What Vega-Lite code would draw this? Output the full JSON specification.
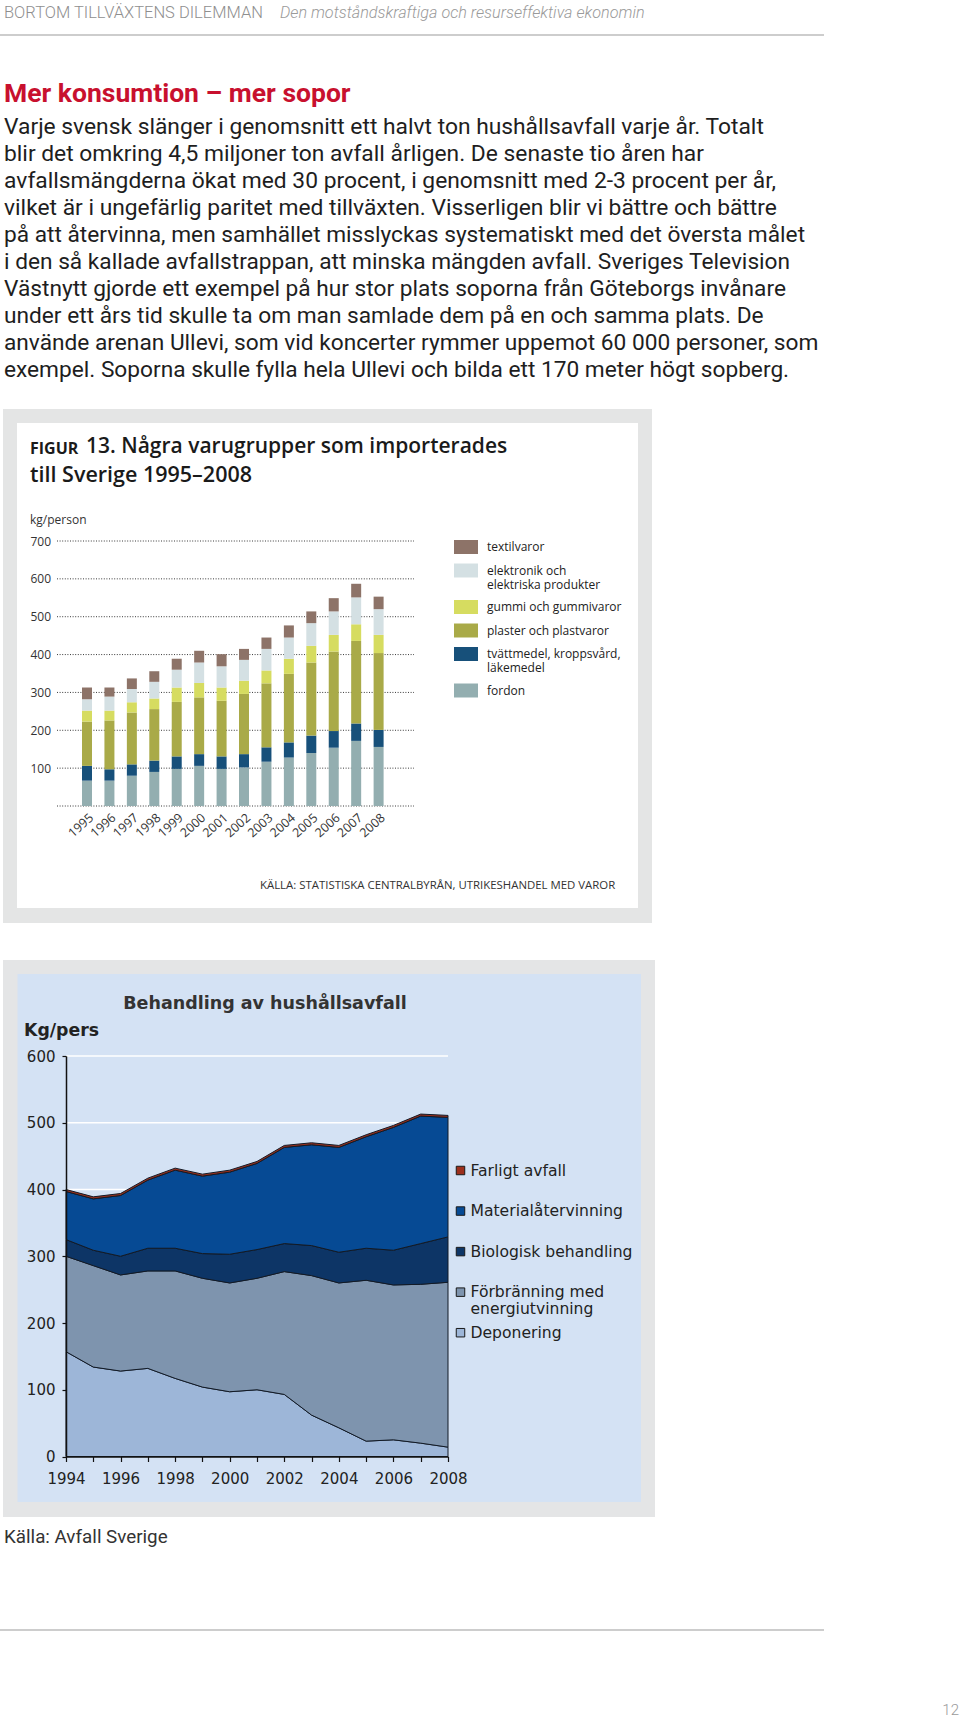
{
  "$schema": "https://vega.github.io/schema/vega-lite/v6.json",
  "width": 960,
  "height": 1719,
  "autosize": {"type": "none"},
  "padding": 0,
  "background": "#ffffff",
  "config": {"view": {"stroke": null}, "font": "Roboto", "style": {"guide-label": {"lineHeight": 14}}},
  "data": {"values": [{}]},
  "datasets": {
    "para": [
      {"line": 1, "t": "Varje svensk slänger i genomsnitt ett halvt ton hushållsavfall varje år. Totalt"},
      {"line": 2, "t": "blir det omkring 4,5 miljoner ton avfall årligen. De senaste tio åren har"},
      {"line": 3, "t": "avfallsmängderna ökat med 30 procent, i genomsnitt med 2-3 procent per år,"},
      {"line": 4, "t": "vilket är i ungefärlig paritet med tillväxten. Visserligen blir vi bättre och bättre"},
      {"line": 5, "t": "på att återvinna, men samhället misslyckas systematiskt med det översta målet"},
      {"line": 6, "t": "i den så kallade avfallstrappan, att minska mängden avfall. Sveriges Television"},
      {"line": 7, "t": "Västnytt gjorde ett exempel på hur stor plats soporna från Göteborgs invånare"},
      {"line": 8, "t": "under ett års tid skulle ta om man samlade dem på en och samma plats. De"},
      {"line": 9, "t": "använde arenan Ullevi, som vid koncerter rymmer uppemot 60 000 personer, som"},
      {"line": 10, "t": "exempel. Soporna skulle fylla hela Ullevi och bilda ett 170 meter högt sopberg."}
    ],
    "grid1": [{"v": 0}, {"v": 100}, {"v": 200}, {"v": 300}, {"v": 400}, {"v": 500}, {"v": 600}, {"v": 700}],
    "grid2": [{"v": 100}, {"v": 200}, {"v": 300}, {"v": 400}, {"v": 500}, {"v": 600}],
    "imp": [
      {"yr": 1995, "c": "fdn", "v": 67}, {"yr": 1995, "c": "tva", "v": 39}, {"yr": 1995, "c": "pla", "v": 117}, {"yr": 1995, "c": "gum", "v": 29}, {"yr": 1995, "c": "ele", "v": 30}, {"yr": 1995, "c": "tex", "v": 31},
      {"yr": 1996, "c": "fdn", "v": 67}, {"yr": 1996, "c": "tva", "v": 30}, {"yr": 1996, "c": "pla", "v": 129}, {"yr": 1996, "c": "gum", "v": 26}, {"yr": 1996, "c": "ele", "v": 37}, {"yr": 1996, "c": "tex", "v": 24},
      {"yr": 1997, "c": "fdn", "v": 80}, {"yr": 1997, "c": "tva", "v": 30}, {"yr": 1997, "c": "pla", "v": 137}, {"yr": 1997, "c": "gum", "v": 27}, {"yr": 1997, "c": "ele", "v": 35}, {"yr": 1997, "c": "tex", "v": 28},
      {"yr": 1998, "c": "fdn", "v": 90}, {"yr": 1998, "c": "tva", "v": 30}, {"yr": 1998, "c": "pla", "v": 136}, {"yr": 1998, "c": "gum", "v": 28}, {"yr": 1998, "c": "ele", "v": 44}, {"yr": 1998, "c": "tex", "v": 28},
      {"yr": 1999, "c": "fdn", "v": 98}, {"yr": 1999, "c": "tva", "v": 33}, {"yr": 1999, "c": "pla", "v": 144}, {"yr": 1999, "c": "gum", "v": 38}, {"yr": 1999, "c": "ele", "v": 47}, {"yr": 1999, "c": "tex", "v": 29},
      {"yr": 2000, "c": "fdn", "v": 106}, {"yr": 2000, "c": "tva", "v": 31}, {"yr": 2000, "c": "pla", "v": 150}, {"yr": 2000, "c": "gum", "v": 38}, {"yr": 2000, "c": "ele", "v": 54}, {"yr": 2000, "c": "tex", "v": 31},
      {"yr": 2001, "c": "fdn", "v": 98}, {"yr": 2001, "c": "tva", "v": 33}, {"yr": 2001, "c": "pla", "v": 147}, {"yr": 2001, "c": "gum", "v": 35}, {"yr": 2001, "c": "ele", "v": 56}, {"yr": 2001, "c": "tex", "v": 32},
      {"yr": 2002, "c": "fdn", "v": 102}, {"yr": 2002, "c": "tva", "v": 35}, {"yr": 2002, "c": "pla", "v": 159}, {"yr": 2002, "c": "gum", "v": 35}, {"yr": 2002, "c": "ele", "v": 55}, {"yr": 2002, "c": "tex", "v": 29},
      {"yr": 2003, "c": "fdn", "v": 117}, {"yr": 2003, "c": "tva", "v": 38}, {"yr": 2003, "c": "pla", "v": 169}, {"yr": 2003, "c": "gum", "v": 34}, {"yr": 2003, "c": "ele", "v": 57}, {"yr": 2003, "c": "tex", "v": 30},
      {"yr": 2004, "c": "fdn", "v": 128}, {"yr": 2004, "c": "tva", "v": 40}, {"yr": 2004, "c": "pla", "v": 181}, {"yr": 2004, "c": "gum", "v": 40}, {"yr": 2004, "c": "ele", "v": 56}, {"yr": 2004, "c": "tex", "v": 32},
      {"yr": 2005, "c": "fdn", "v": 140}, {"yr": 2005, "c": "tva", "v": 46}, {"yr": 2005, "c": "pla", "v": 193}, {"yr": 2005, "c": "gum", "v": 44}, {"yr": 2005, "c": "ele", "v": 60}, {"yr": 2005, "c": "tex", "v": 31},
      {"yr": 2006, "c": "fdn", "v": 154}, {"yr": 2006, "c": "tva", "v": 44}, {"yr": 2006, "c": "pla", "v": 210}, {"yr": 2006, "c": "gum", "v": 44}, {"yr": 2006, "c": "ele", "v": 62}, {"yr": 2006, "c": "tex", "v": 35},
      {"yr": 2007, "c": "fdn", "v": 172}, {"yr": 2007, "c": "tva", "v": 46}, {"yr": 2007, "c": "pla", "v": 218}, {"yr": 2007, "c": "gum", "v": 44}, {"yr": 2007, "c": "ele", "v": 71}, {"yr": 2007, "c": "tex", "v": 36},
      {"yr": 2008, "c": "fdn", "v": 156}, {"yr": 2008, "c": "tva", "v": 45}, {"yr": 2008, "c": "pla", "v": 203}, {"yr": 2008, "c": "gum", "v": 48}, {"yr": 2008, "c": "ele", "v": 68}, {"yr": 2008, "c": "tex", "v": 33}
    ],
    "waste": [
      {"yr": 1994, "c": "dep", "v": 157}, {"yr": 1994, "c": "frb", "v": 143}, {"yr": 1994, "c": "bio", "v": 25}, {"yr": 1994, "c": "mat", "v": 72}, {"yr": 1994, "c": "far", "v": 3},
      {"yr": 1995, "c": "dep", "v": 134}, {"yr": 1995, "c": "frb", "v": 152}, {"yr": 1995, "c": "bio", "v": 23}, {"yr": 1995, "c": "mat", "v": 77}, {"yr": 1995, "c": "far", "v": 3},
      {"yr": 1996, "c": "dep", "v": 128}, {"yr": 1996, "c": "frb", "v": 144}, {"yr": 1996, "c": "bio", "v": 28}, {"yr": 1996, "c": "mat", "v": 91}, {"yr": 1996, "c": "far", "v": 3},
      {"yr": 1997, "c": "dep", "v": 132}, {"yr": 1997, "c": "frb", "v": 146}, {"yr": 1997, "c": "bio", "v": 34}, {"yr": 1997, "c": "mat", "v": 102}, {"yr": 1997, "c": "far", "v": 3},
      {"yr": 1998, "c": "dep", "v": 117}, {"yr": 1998, "c": "frb", "v": 161}, {"yr": 1998, "c": "bio", "v": 34}, {"yr": 1998, "c": "mat", "v": 117}, {"yr": 1998, "c": "far", "v": 3},
      {"yr": 1999, "c": "dep", "v": 104}, {"yr": 1999, "c": "frb", "v": 163}, {"yr": 1999, "c": "bio", "v": 37}, {"yr": 1999, "c": "mat", "v": 116}, {"yr": 1999, "c": "far", "v": 3},
      {"yr": 2000, "c": "dep", "v": 97}, {"yr": 2000, "c": "frb", "v": 163}, {"yr": 2000, "c": "bio", "v": 43}, {"yr": 2000, "c": "mat", "v": 123}, {"yr": 2000, "c": "far", "v": 3},
      {"yr": 2001, "c": "dep", "v": 100}, {"yr": 2001, "c": "frb", "v": 167}, {"yr": 2001, "c": "bio", "v": 43}, {"yr": 2001, "c": "mat", "v": 129}, {"yr": 2001, "c": "far", "v": 3},
      {"yr": 2002, "c": "dep", "v": 93}, {"yr": 2002, "c": "frb", "v": 184}, {"yr": 2002, "c": "bio", "v": 42}, {"yr": 2002, "c": "mat", "v": 144}, {"yr": 2002, "c": "far", "v": 3},
      {"yr": 2003, "c": "dep", "v": 62}, {"yr": 2003, "c": "frb", "v": 209}, {"yr": 2003, "c": "bio", "v": 45}, {"yr": 2003, "c": "mat", "v": 151}, {"yr": 2003, "c": "far", "v": 3},
      {"yr": 2004, "c": "dep", "v": 43}, {"yr": 2004, "c": "frb", "v": 217}, {"yr": 2004, "c": "bio", "v": 46}, {"yr": 2004, "c": "mat", "v": 157}, {"yr": 2004, "c": "far", "v": 3},
      {"yr": 2005, "c": "dep", "v": 23}, {"yr": 2005, "c": "frb", "v": 241}, {"yr": 2005, "c": "bio", "v": 48}, {"yr": 2005, "c": "mat", "v": 167}, {"yr": 2005, "c": "far", "v": 3},
      {"yr": 2006, "c": "dep", "v": 25}, {"yr": 2006, "c": "frb", "v": 232}, {"yr": 2006, "c": "bio", "v": 52}, {"yr": 2006, "c": "mat", "v": 184}, {"yr": 2006, "c": "far", "v": 3},
      {"yr": 2007, "c": "dep", "v": 20}, {"yr": 2007, "c": "frb", "v": 238}, {"yr": 2007, "c": "bio", "v": 61}, {"yr": 2007, "c": "mat", "v": 191}, {"yr": 2007, "c": "far", "v": 3},
      {"yr": 2008, "c": "dep", "v": 14}, {"yr": 2008, "c": "frb", "v": 247}, {"yr": 2008, "c": "bio", "v": 68}, {"yr": 2008, "c": "mat", "v": 179}, {"yr": 2008, "c": "far", "v": 3}
    ],
    "leg2": [
      {"c": "far", "t": "Farligt avfall"},
      {"c": "mat", "t": "Materialåtervinning"},
      {"c": "bio", "t": "Biologisk behandling"},
      {"c": "frb", "t": "Förbränning med\nenergiutvinning"},
      {"c": "dep", "t": "Deponering"}
    ]
  },
  "layer": [
    {"mark": {"type": "rect", "color": "#e4e5e5"}, "encoding": {"x": {"value": 3}, "x2": {"value": 652}, "y": {"value": 409}, "y2": {"value": 923}}},
    {"mark": {"type": "rect", "color": "#ffffff"}, "encoding": {"x": {"value": 17}, "x2": {"value": 638}, "y": {"value": 423}, "y2": {"value": 908}}},
    {"mark": {"type": "rect", "color": "#e4e5e6"}, "encoding": {"x": {"value": 3}, "x2": {"value": 655}, "y": {"value": 960}, "y2": {"value": 1517}}},
    {"mark": {"type": "rect", "color": "#d4e2f4"}, "encoding": {"x": {"value": 17.5}, "x2": {"value": 641}, "y": {"value": 974}, "y2": {"value": 1502}}},
    {"mark": {"type": "rule", "color": "#bdbdbd", "strokeWidth": 1.5}, "encoding": {"x": {"value": 0}, "x2": {"value": 824}, "y": {"value": 35}}},
    {"mark": {"type": "rule", "color": "#bdbdbd", "strokeWidth": 1.5}, "encoding": {"x": {"value": 0}, "x2": {"value": 824}, "y": {"value": 1630}}},
    {"mark": {"type": "text", "align": "left", "baseline": "middle", "font": "Roboto", "fontSize": 16.5, "fontWeight": 300, "color": "#8f8f8f"}, "encoding": {"x": {"value": 4}, "y": {"value": 13}, "text": {"value": "BORTOM TILLVÄXTENS DILEMMAN"}}},
    {"mark": {"type": "text", "align": "left", "baseline": "middle", "font": "Roboto", "fontSize": 16.2, "fontStyle": "italic", "fontWeight": 300, "color": "#9a9a9a"}, "encoding": {"x": {"value": 280}, "y": {"value": 13}, "text": {"value": "Den motståndskraftiga och resurseffektiva ekonomin"}}},
    {"mark": {"type": "text", "align": "left", "baseline": "middle", "font": "Roboto", "fontSize": 26.5, "fontWeight": "bold", "color": "#c8102e"}, "encoding": {"x": {"value": 4}, "y": {"value": 94}, "text": {"value": "Mer konsumtion – mer sopor"}}},
    {"data": {"name": "para"}, "transform": [{"filter": "datum.line <= 4"}], "mark": {"type": "text", "align": "left", "baseline": "middle", "font": "Roboto", "fontSize": 22.8, "color": "#1e1e1e"}, "encoding": {"x": {"value": 4}, "y": {"field": "line", "type": "quantitative", "scale": {"domain": [1, 10], "range": [127, 370]}, "axis": null}, "text": {"field": "t"}}},
    {"data": {"name": "para"}, "transform": [{"filter": "datum.line > 4"}], "mark": {"type": "text", "align": "left", "baseline": "middle", "font": "Roboto", "fontSize": 22.7, "color": "#1e1e1e"}, "encoding": {"x": {"value": 4}, "y": {"field": "line", "type": "quantitative", "scale": {"domain": [1, 10], "range": [127, 370]}, "axis": null}, "text": {"field": "t"}}},
    {"mark": {"type": "text", "align": "left", "baseline": "middle", "font": "Open Sans", "fontSize": 16, "fontWeight": 700, "color": "#1a1a1a"}, "encoding": {"x": {"value": 30}, "y": {"value": 449}, "text": {"value": "FIGUR"}}},
    {"mark": {"type": "text", "align": "left", "baseline": "middle", "font": "Open Sans", "fontSize": 21, "fontWeight": 600, "color": "#1a1a1a"}, "encoding": {"x": {"value": 86}, "y": {"value": 447}, "text": {"value": "13. Några varugrupper som importerades"}}},
    {"mark": {"type": "text", "align": "left", "baseline": "middle", "font": "Open Sans", "fontSize": 21.5, "fontWeight": 600, "color": "#1a1a1a"}, "encoding": {"x": {"value": 30}, "y": {"value": 476}, "text": {"value": "till Sverige 1995–2008"}}},
    {"mark": {"type": "text", "align": "left", "baseline": "middle", "font": "Open Sans", "fontSize": 12, "color": "#333333"}, "encoding": {"x": {"value": 30}, "y": {"value": 520}, "text": {"value": "kg/person"}}},
    {"mark": {"type": "text", "align": "left", "baseline": "middle", "font": "Open Sans", "fontSize": 11.4, "color": "#333333"}, "encoding": {"x": {"value": 260}, "y": {"value": 886}, "text": {"value": "KÄLLA: STATISTISKA CENTRALBYRÅN, UTRIKESHANDEL MED VAROR"}}},
    {"mark": {"type": "text", "align": "center", "baseline": "middle", "font": "DejaVu Sans", "fontSize": 17.5, "fontWeight": "bold", "color": "#333333"}, "encoding": {"x": {"value": 265}, "y": {"value": 1004}, "text": {"value": "Behandling av hushållsavfall"}}},
    {"mark": {"type": "text", "align": "left", "baseline": "middle", "font": "DejaVu Sans", "fontSize": 17.3, "fontWeight": "bold", "color": "#222222"}, "encoding": {"x": {"value": 24}, "y": {"value": 1031}, "text": {"value": "Kg/pers"}}},
    {"mark": {"type": "text", "align": "left", "baseline": "middle", "font": "Roboto", "fontSize": 18.8, "color": "#333333"}, "encoding": {"x": {"value": 4}, "y": {"value": 1537}, "text": {"value": "Källa: Avfall Sverige"}}},
    {"mark": {"type": "text", "align": "right", "baseline": "middle", "font": "Roboto", "fontSize": 15, "fontWeight": 300, "color": "#9a9a9a"}, "encoding": {"x": {"value": 959}, "y": {"value": 1710}, "text": {"value": "12"}}},
    {
      "layer": [
        {"data": {"name": "grid1"}, "mark": {"type": "rule", "color": "#3a3a3a", "strokeDash": [1, 1.6], "strokeWidth": 1},
         "encoding": {"y": {"field": "v", "type": "quantitative", "scale": {"domain": [0, 700], "range": [806, 541]},
                            "axis": {"orient": "left", "offset": -57, "values": [100, 200, 300, 400, 500, 600, 700], "domain": false, "ticks": false, "tickSize": 0, "grid": false, "labelAlign": "left", "labelPadding": 27, "labelFont": "Open Sans", "labelFontSize": 12, "labelColor": "#333333", "labelOverlap": false, "labelFlush": false, "title": null, "zindex": 1}},
                      "x": {"value": 57}, "x2": {"value": 414}}},
        {
          "data": {"name": "imp"},
          "transform": [{"calculate": "indexof(['fdn','tva','pla','gum','ele','tex'], datum.c)", "as": "o"}],
          "mark": {"type": "bar", "size": 10},
          "encoding": {
            "x": {"field": "yr", "type": "quantitative", "scale": {"domain": [1995, 2008], "range": [82, 383.6], "zero": false, "nice": false},
                  "axis": {"orient": "bottom", "offset": -913, "values": [1995, 1996, 1997, 1998, 1999, 2000, 2001, 2002, 2003, 2004, 2005, 2006, 2007, 2008], "format": "d", "labelAngle": -42, "domain": false, "ticks": false, "tickSize": 0, "grid": false, "labelPadding": 5, "labelFont": "Open Sans", "labelFontSize": 12.5, "labelColor": "#333333", "labelOverlap": false, "labelFlush": false, "title": null, "zindex": 1}},
            "y": {"field": "v", "type": "quantitative", "stack": "zero", "scale": {"domain": [0, 700], "range": [806, 541]},
                  "axis": {"orient": "left", "offset": -57, "values": [100, 200, 300, 400, 500, 600, 700], "domain": false, "ticks": false, "tickSize": 0, "grid": false, "labelAlign": "left", "labelPadding": 27, "labelFont": "Open Sans", "labelFontSize": 12, "labelColor": "#333333", "labelOverlap": false, "labelFlush": false, "title": null, "zindex": 1}},
            "color": {"field": "c", "type": "nominal",
                      "scale": {"domain": ["tex", "ele", "gum", "pla", "tva", "fdn"], "range": ["#8d7368", "#d4e0e3", "#d6dc60", "#a9aa48", "#17507a", "#93aeb0"]},
                      "legend": {"orient": "none", "legendX": 456, "legendY": 537, "title": null, "symbolType": "M-1.2,-0.7H1.2V0.7H-1.2Z", "symbolSize": 400, "symbolStrokeWidth": 0, "symbolOpacity": 1, "labelFont": "Open Sans", "labelFontSize": 12, "labelColor": "#222222", "rowPadding": 6.5, "labelOffset": 11, "labelLimit": 300, "zindex": 1,
                                 "labelExpr": "{'tex':'textilvaror','ele':['elektronik och','elektriska produkter'],'gum':'gummi och gummivaror','pla':'plaster och plastvaror','tva':['tvättmedel, kroppsvård,','läkemedel'],'fdn':'fordon'}[datum.label]"}},
            "order": {"field": "o", "type": "quantitative"}
          }
        }
      ]
    },
    {
      "layer": [
        {"data": {"name": "grid2"}, "mark": {"type": "rule", "color": "#ffffff", "strokeWidth": 1.5},
         "encoding": {"y": {"field": "v", "type": "quantitative", "scale": {"domain": [0, 600], "range": [1456.5, 1056]},
                            "axis": {"orient": "left", "offset": -66, "values": [0, 100, 200, 300, 400, 500, 600], "domain": true, "domainColor": "#111111", "domainWidth": 1.5, "ticks": true, "tickSize": 4, "tickColor": "#111111", "tickWidth": 1.2, "grid": false, "labelPadding": 7, "labelFont": "DejaVu Sans", "labelFontSize": 15, "labelColor": "#222222", "labelOverlap": false, "labelFlush": false, "title": null, "zindex": 2}},
                      "x": {"value": 66}, "x2": {"value": 448}}},
        {
          "data": {"name": "waste"},
          "transform": [{"calculate": "indexof(['dep','frb','bio','mat','far'], datum.c)", "as": "o"}],
          "mark": {"type": "area", "interpolate": "linear", "stroke": "#121a26", "strokeWidth": 1, "opacity": 1},
          "encoding": {
            "x": {"field": "yr", "type": "quantitative", "scale": {"domain": [1994, 2008], "range": [66, 448], "zero": false, "nice": false},
                  "axis": {"orient": "bottom", "offset": -262.5, "values": [1994, 1995, 1996, 1997, 1998, 1999, 2000, 2001, 2002, 2003, 2004, 2005, 2006, 2007, 2008], "format": "d", "labelExpr": "datum.value % 2 == 0 ? datum.label : ''", "labelAngle": 0, "domain": true, "domainColor": "#111111", "domainWidth": 1.5, "ticks": true, "tickSize": 5, "tickColor": "#111111", "tickWidth": 1.2, "grid": false, "labelPadding": 10, "labelFont": "DejaVu Sans", "labelFontSize": 15, "labelColor": "#222222", "labelOverlap": false, "labelFlush": false, "title": null, "zindex": 2}},
            "y": {"field": "v", "type": "quantitative", "stack": "zero", "scale": {"domain": [0, 600], "range": [1456.5, 1056]},
                  "axis": {"orient": "left", "offset": -66, "values": [0, 100, 200, 300, 400, 500, 600], "domain": true, "domainColor": "#111111", "domainWidth": 1.5, "ticks": true, "tickSize": 4, "tickColor": "#111111", "tickWidth": 1.2, "grid": false, "labelPadding": 7, "labelFont": "DejaVu Sans", "labelFontSize": 15, "labelColor": "#222222", "labelOverlap": false, "labelFlush": false, "title": null, "zindex": 2}},
            "color": {"field": "c", "type": "nominal", "scale": {"domain": ["far", "mat", "bio", "frb", "dep"], "range": ["#9c2f1c", "#064a94", "#0d3566", "#7e94ae", "#9db6d8"]}, "legend": null},
            "order": {"field": "o", "type": "quantitative"}
          }
        }
      ]
    },
    {
      "data": {"name": "leg2"},
      "transform": [{"calculate": "indexof(['far','mat','bio','frb','dep'], datum.c)", "as": "i"}],
      "layer": [
        {"mark": {"type": "point", "shape": "square", "size": 72, "filled": true, "stroke": "#1a1a1a", "strokeWidth": 1, "opacity": 1},
         "encoding": {"x": {"value": 460.5}, "y": {"field": "i", "type": "quantitative", "scale": {"domain": [0, 4], "range": [1170.5, 1332.7]}, "axis": null},
                      "fill": {"field": "c", "type": "nominal", "scale": {"domain": ["far", "mat", "bio", "frb", "dep"], "range": ["#9c2f1c", "#064a94", "#0d3566", "#7e94ae", "#9db6d8"]}, "legend": null}}},
        {"mark": {"type": "text", "align": "left", "baseline": "middle", "font": "DejaVu Sans", "fontSize": 15.6, "lineBreak": "\n", "lineHeight": 17, "color": "#222222"},
         "encoding": {"x": {"value": 470.5}, "y": {"field": "i", "type": "quantitative", "scale": {"domain": [0, 4], "range": [1170.5, 1332.7]}, "axis": null}, "text": {"field": "t"}}}
      ]
    }
  ],
  "resolve": {
    "scale": {"x": "independent", "y": "independent", "color": "independent", "fill": "independent"},
    "axis": {"x": "independent", "y": "independent"},
    "legend": {"color": "independent", "fill": "independent"}
  }
}
